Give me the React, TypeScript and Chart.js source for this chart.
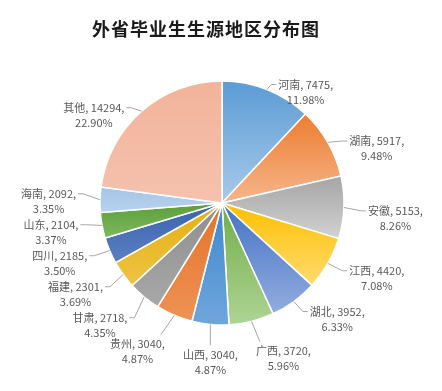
import { useEffect, useRef } from 'react';
import { Chart, registerables } from 'chart.js';

Chart.register(...registerables);

const titleText = '外省毕业生生源地区分布图';
const regions = ['河南', '湖南', '安徽', '江西', '湖北', '广西', '山西', '贵州', '甘肃', '福建', '四川', '山东', '海南', '其他'];
const counts = [7475, 5917, 5153, 4420, 3952, 3720, 3040, 3040, 2718, 2301, 2185, 2104, 2092, 14294];
const percents = ['11.98', '9.48', '8.26', '7.08', '6.33', '5.96', '4.87', '4.87', '4.35', '3.69', '3.50', '3.37', '3.35', '22.90'];
const baseColors = ['#5B9BD5', '#ED7D31', '#A5A5A5', '#FFC000', '#4472C4', '#70AD47', '#3F87CC', '#E5732B', '#8E8E8E', '#E4AE10', '#3A62AE', '#5C9E3A', '#A6C5E8', '#F2B39A'];
const tintColors = ['#A8CAEA', '#F6B68C', '#D2D2D2', '#FFDB70', '#93ACDF', '#AED495', '#6FA6DC', '#EE9255', '#A8A8A8', '#EEC445', '#5B7FC2', '#7DB85D', '#B8D2EE', '#F5C2AE'];

const FONT = '"Noto Sans CJK SC", "Noto Sans", sans-serif';
const LINE_H = 15;
const LABEL_GAP = 20;
const V_SQUASH = 0.92;

const gradientPlugin = {
  id: 'sliceGradient',
  beforeDatasetsDraw(chart: any) {
    const ctx = chart.ctx;
    const meta = chart.getDatasetMeta(0);
    meta.data.forEach((el: any, i: number) => {
      const p = el.getProps(['x', 'y', 'startAngle', 'endAngle', 'outerRadius'], true);
      const ys = [p.y, p.y + p.outerRadius * Math.sin(p.startAngle), p.y + p.outerRadius * Math.sin(p.endAngle)];
      const q = Math.PI / 2;
      for (let k = Math.ceil(p.startAngle / q); k * q <= p.endAngle; k++) {
        ys.push(p.y + p.outerRadius * Math.sin(k * q));
      }
      const top = Math.min(...ys);
      const bot = Math.max(...ys);
      const g = ctx.createLinearGradient(0, top, 0, bot + 0.01);
      g.addColorStop(0, baseColors[i]);
      g.addColorStop(1, tintColors[i]);
      el.options.backgroundColor = g;
    });
  },
};

const labelPlugin = {
  id: 'pieLabels',
  afterDatasetsDraw(chart: any) {
    const ctx = chart.ctx;
    const meta = chart.getDatasetMeta(0);
    ctx.save();
    ctx.font = `11px ${FONT}`;
    const items = meta.data.map((el: any, i: number) => {
      const p = el.getProps(['x', 'y', 'startAngle', 'endAngle', 'outerRadius'], true);
      const mid = (p.startAngle + p.endAngle) / 2;
      const cx = Math.cos(mid);
      const sy = Math.sin(mid);
      const l1 = `${regions[i]}, ${counts[i]},`;
      const l2 = `${percents[i]}%`;
      const w = Math.max(ctx.measureText(l1).width, ctx.measureText(l2).width);
      const ex = p.x + p.outerRadius * cx;
      const ey = p.y + p.outerRadius * sy;
      const R = p.outerRadius + LABEL_GAP;
      const ax = p.x + R * cx;
      const bottom = sy > 0.9;
      const side = cx >= 0 ? 1 : -1;
      let bx: number;
      let by: number;
      if (bottom) {
        bx = ax;
        by = p.y + R * sy + 10;
      } else {
        bx = ax + side * (4 + w / 2);
        by = p.y + R * sy * V_SQUASH + 3;
      }
      return { i, w, ex, ey, bx, by, bottom, side, l1, l2 };
    });

    const sideGroups = [
      items.filter((t: any) => !t.bottom && t.side > 0),
      items.filter((t: any) => !t.bottom && t.side < 0),
    ];
    for (const g of sideGroups) {
      g.sort((a: any, b: any) => a.by - b.by);
      for (let it = 0; it < 80; it++) {
        for (let k = 0; k < g.length - 1; k++) {
          const a = g[k];
          const b = g[k + 1];
          const need = 2 * LINE_H + 1;
          const d = b.by - a.by;
          if (d < need) {
            const s = (need - d) / 2;
            a.by -= s;
            b.by += s;
          }
        }
      }
    }
    const bottoms = items.filter((t: any) => t.bottom).sort((a: any, b: any) => a.bx - b.bx);
    for (let it = 0; it < 80; it++) {
      for (let k = 0; k < bottoms.length - 1; k++) {
        const a = bottoms[k];
        const b = bottoms[k + 1];
        const need = (a.w + b.w) / 2 + 18;
        const d = b.bx - a.bx;
        if (d < need) {
          const s = (need - d) / 2;
          a.bx -= s;
          b.bx += s;
        }
      }
    }

    ctx.strokeStyle = '#A6A6A6';
    ctx.lineWidth = 1;
    for (const t of items) {
      ctx.beginPath();
      if (t.bottom) {
        const tx = Math.min(Math.max(t.ex, t.bx - t.w / 2 + 4), t.bx + t.w / 2 - 4);
        ctx.moveTo(t.ex, t.ey);
        ctx.lineTo(tx, t.by - 9);
      } else {
        const tx = t.bx - t.side * (t.w / 2 + 2);
        ctx.moveTo(t.ex, t.ey);
        ctx.lineTo(tx - t.side * 5, t.by);
        ctx.lineTo(tx, t.by);
      }
      ctx.stroke();
    }

    ctx.fillStyle = '#595959';
    ctx.textAlign = 'center';
    ctx.textBaseline = 'middle';
    for (const t of items) {
      ctx.fillText(t.l1, t.bx, t.by);
      ctx.fillText(t.l2, t.bx, t.by + LINE_H);
    }
    ctx.restore();
  },
};

const titlePlugin = {
  id: 'customTitle',
  afterDraw(chart: any) {
    const ctx = chart.ctx;
    ctx.save();
    ctx.font = `bold 18px ${FONT}`;
    (ctx as any).letterSpacing = '1px';
    ctx.fillStyle = '#1a1a1a';
    ctx.textAlign = 'center';
    ctx.textBaseline = 'middle';
    ctx.fillText(titleText, 206, 29);
    ctx.restore();
  },
};

export default function App() {
  const ref = useRef<HTMLCanvasElement>(null);
  useEffect(() => {
    if (!ref.current) return;
    const chart = new Chart(ref.current, {
      type: 'pie',
      data: {
        labels: regions,
        datasets: [
          {
            data: counts,
            backgroundColor: baseColors,
            borderColor: '#FFFFFF',
            borderWidth: 1.5,
          },
        ],
      },
      options: {
        responsive: false,
        animation: false,
        devicePixelRatio: 1,
        radius: 122,
        layout: { padding: { left: 100, right: 98, top: 81, bottom: 66 } },
        plugins: {
          legend: { display: false },
          title: { display: false },
          tooltip: { enabled: false },
        },
      } as any,
      plugins: [gradientPlugin, labelPlugin, titlePlugin],
    });
    return () => chart.destroy();
  }, []);
  return (
    <div style={{ position: 'absolute', left: 0, top: 0, width: 442, height: 391, background: '#fff' }}>
      <canvas ref={ref} width={442} height={391} />
    </div>
  );
}
